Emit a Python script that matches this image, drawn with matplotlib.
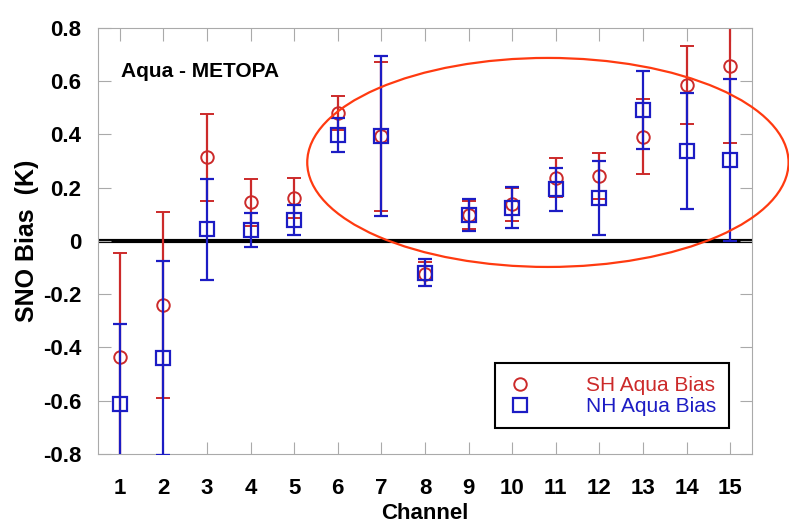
import numpy as np
from matplotlib import pyplot as plt
from matplotlib.patches import Ellipse
from matplotlib.lines import Line2D

plt.rcParams['font.family'] = ['Liberation Sans', 'DejaVu Sans']

# ---Daten---
kanaele = np.arange(1, 16)
sh_bias = [-0.436, -0.240, 0.314, 0.145, 0.163, 0.480, 0.394, -0.124,
           0.098, 0.138, 0.238, 0.244, 0.392, 0.586, 0.658]
sh_fehler = [0.39, 0.35, 0.163, 0.088, 0.075, 0.063, 0.28, 0.044,
             0.054, 0.062, 0.073, 0.087, 0.14, 0.147, 0.29]
nh_bias = [-0.611, -0.440, 0.044, 0.041, 0.079, 0.398, 0.394, -0.119,
           0.098, 0.125, 0.194, 0.163, 0.492, 0.338, 0.304]
nh_fehler = [0.30, 0.365, 0.19, 0.065, 0.057, 0.063, 0.30, 0.05,
             0.06, 0.078, 0.081, 0.139, 0.145, 0.218, 0.305]
y_ticks = [-0.8, -0.6, -0.4, -0.2, 0, 0.2, 0.4, 0.6, 0.8]
y_labels = ["-0.8", "-0.6", "-0.4", "-0.2", "0", "0.2", "0.4", "0.6", "0.8"]

rot = "#cc2a2a"
blau = "#1c1cc4"

fig = plt.figure(figsize=(7.89, 5.26), dpi=100)
ax = fig.add_axes([0.1242, 0.1369, 0.8288, 0.8099])

ax.axhline(0, color="k", lw=3, zorder=1)

ax.errorbar(kanaele, sh_bias, yerr=sh_fehler, fmt="o", color=rot, mfc="none",
            mec=rot, ms=9, mew=1.4, elinewidth=1.6, capsize=5, capthick=1.6,
            zorder=2)
ax.errorbar(kanaele, nh_bias, yerr=nh_fehler, fmt="s", color=blau, mfc="none",
            mec=blau, ms=9.5, mew=1.6, elinewidth=1.6, capsize=5, capthick=1.6,
            zorder=3)

# roter Kreis um Kanaele 6-15 (ragt ueber den Rand hinaus)
ell = Ellipse((10.82, 0.295), 11.04, 0.785, fill=False, edgecolor="#ff3a10",
              lw=1.6, clip_on=False, zorder=4)
ax.add_patch(ell)

ax.set_xlim(0.5, 15.5)
ax.set_ylim(-0.8, 0.8)
ax.set_xticks(kanaele)
ax.set_xticklabels([str(k) for k in kanaele], fontsize=16, fontweight="bold")
ax.set_yticks(y_ticks)
ax.set_yticklabels(y_labels, fontsize=16, fontweight="bold")
ax.tick_params(axis="x", direction="in", length=9, color="#aaaaaa", top=True,
               pad=17)
ax.tick_params(axis="y", direction="in", length=9, color="#aaaaaa", right=True,
               pad=12)
for s in ax.spines.values():
    s.set_color("#aaaaaa")

ax.set_xlabel("Channel", fontsize=16, fontweight="bold", labelpad=3)
ax.set_ylabel("SNO Bias  (K)", fontsize=18, fontweight="bold", labelpad=3)
ax.text(0.035, 0.885, "Aqua - METOPA", transform=ax.transAxes, fontsize=15,
        fontweight="bold")

handles = [Line2D([], [], ls="none", marker="o", mfc="none", mec=rot, ms=9, mew=1.4),
           Line2D([], [], ls="none", marker="s", mfc="none", mec=blau, ms=9.5, mew=1.6)]
leg = ax.legend(handles, ["SH Aqua Bias", "NH Aqua Bias"], loc="lower right",
                bbox_to_anchor=(0.965, 0.06), fontsize=15, fancybox=False,
                framealpha=1, edgecolor="k", handlelength=1.2,
                handletextpad=2.6, borderpad=0.6, borderaxespad=0,
                labelspacing=0.1)
leg.get_frame().set_linewidth(1.5)
leg.get_texts()[0].set_color(rot)
leg.get_texts()[1].set_color(blau)

plt.savefig("out.png", dpi=100)
